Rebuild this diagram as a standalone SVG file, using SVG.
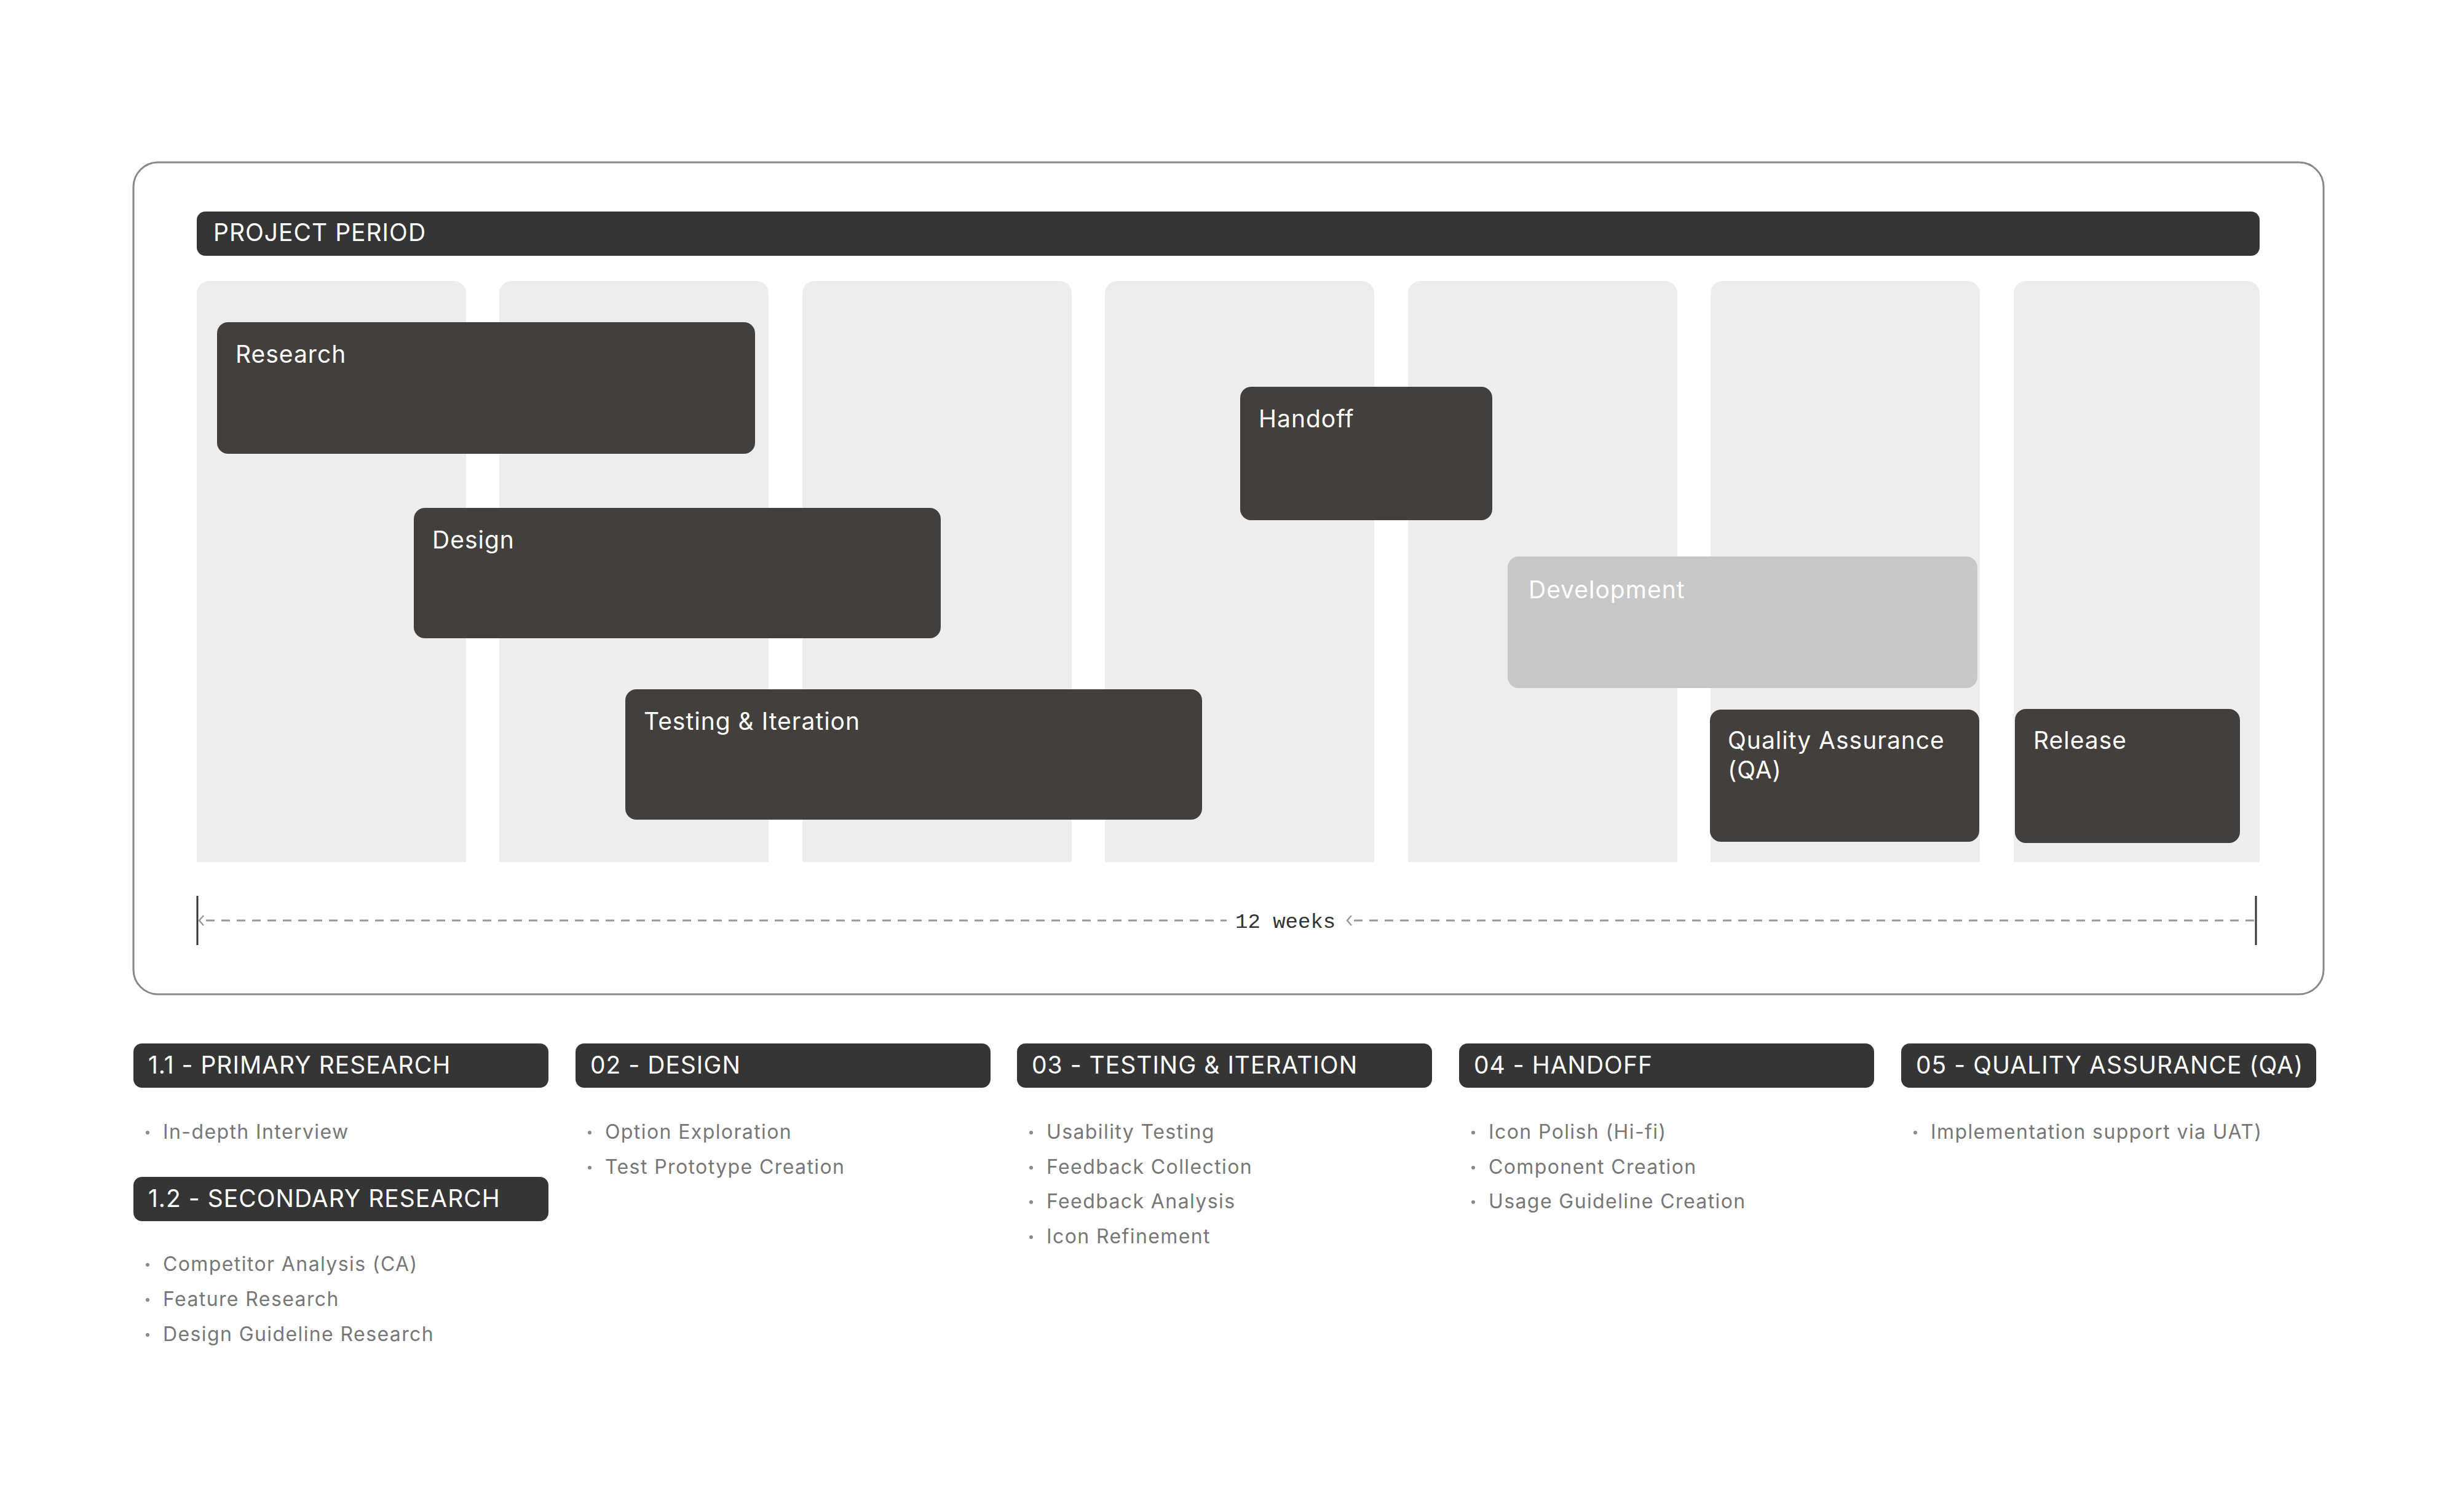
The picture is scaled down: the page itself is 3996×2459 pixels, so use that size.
<svg xmlns="http://www.w3.org/2000/svg" width="3996" height="2459" viewBox="0 0 3996 2459">
<style>
.lbl{font-family:Inter,"Open Sans","Liberation Sans",sans-serif;font-size:39px;letter-spacing:1px;fill:#ffffff}
.bar{fill:#433f3c}
.col{fill:#ededed}
.hdr{fill:#353535}
.item{font-family:Inter,"Open Sans","Liberation Sans",sans-serif;font-size:32px;letter-spacing:1.4px;fill:#777777}
.dot{fill:#8a8a8a}
.dash{stroke:#999999;stroke-width:3;stroke-dasharray:14 11;fill:none}
.tick{stroke:#333333;stroke-width:3}
.chev{stroke:#999999;stroke-width:2.5;fill:none}
</style>
<rect width="3996" height="2459" fill="#ffffff"/>
<g id="frame">
<rect x="217" y="264" width="3562" height="1353" rx="40" fill="#ffffff" stroke="#888888" stroke-width="3"/>
</g>
<g id="project-period">
<rect class="hdr" x="320" y="344" width="3355" height="72" rx="14"/>
<text class="lbl" x="347" y="392">PROJECT PERIOD</text>
</g>
<g id="columns">
<path class="col" d="M320 1402V477a20 20 0 0 1 20-20H738a20 20 0 0 1 20 20V1402Z"/>
<path class="col" d="M812 1402V477a20 20 0 0 1 20-20H1230a20 20 0 0 1 20 20V1402Z"/>
<path class="col" d="M1305 1402V477a20 20 0 0 1 20-20H1723a20 20 0 0 1 20 20V1402Z"/>
<path class="col" d="M1797 1402V477a20 20 0 0 1 20-20H2215a20 20 0 0 1 20 20V1402Z"/>
<path class="col" d="M2290 1402V477a20 20 0 0 1 20-20H2708a20 20 0 0 1 20 20V1402Z"/>
<path class="col" d="M2782 1402V477a20 20 0 0 1 20-20H3200a20 20 0 0 1 20 20V1402Z"/>
<path class="col" d="M3275 1402V477a20 20 0 0 1 20-20H3655a20 20 0 0 1 20 20V1402Z"/>
</g>
<g id="research">
<rect class="bar" x="353" y="524" width="875" height="214" rx="18"/>
<text class="lbl" x="383" y="590">Research</text>
</g>
<g id="design">
<rect class="bar" x="673" y="826" width="857" height="212" rx="18"/>
<text class="lbl" x="703" y="892">Design</text>
</g>
<g id="testing-iteration">
<rect class="bar" x="1017" y="1121" width="938" height="212" rx="18"/>
<text class="lbl" x="1047" y="1187">Testing &amp; Iteration</text>
</g>
<g id="handoff">
<rect class="bar" x="2017" y="629" width="410" height="217" rx="18"/>
<text class="lbl" x="2047" y="695">Handoff</text>
</g>
<g id="development">
<rect x="2452" y="905" width="764" height="214" rx="18" fill="#c8c8c8"/>
<text class="lbl" x="2486" y="973">Development</text>
</g>
<g id="quality-assurance">
<rect class="bar" x="2781" y="1154" width="438" height="215" rx="18"/>
<text class="lbl" x="2810" y="1218">Quality Assurance</text>
<text class="lbl" x="2810" y="1266">(QA)</text>
</g>
<g id="release">
<rect class="bar" x="3277" y="1153" width="366" height="218" rx="18"/>
<text class="lbl" x="3307" y="1218">Release</text>
</g>
<g id="connectors">
<line class="tick" x1="321" y1="1457" x2="321" y2="1537"/>
<line class="tick" x1="3669" y1="1457" x2="3669" y2="1537"/>
<line class="dash" x1="335" y1="1497" x2="1995" y2="1497"/>
<line class="dash" x1="2202" y1="1497" x2="3668" y2="1497"/>
<polyline class="chev" points="331,1489 324,1497 331,1505"/>
<polyline class="chev" points="2198,1489 2191,1497 2198,1505"/>
<text x="2009" y="1509" font-family="'Liberation Mono','DejaVu Sans Mono',monospace" font-size="34" fill="#333333">12 weeks</text>
</g>
<g id="sec-primary-research">
<rect class="hdr" x="217" y="1697" width="675" height="72" rx="14"/>
<text class="lbl" x="241" y="1746">1.1 - PRIMARY RESEARCH</text>
<circle class="dot" cx="240" cy="1842" r="3"/>
<text class="item" x="265" y="1852">In-depth Interview</text>
</g>
<g id="sec-secondary-research">
<rect class="hdr" x="217" y="1914" width="675" height="72" rx="14"/>
<text class="lbl" x="241" y="1963">1.2 - SECONDARY RESEARCH</text>
<circle class="dot" cx="240" cy="2057" r="3"/>
<text class="item" x="265" y="2067">Competitor Analysis (CA)</text>
<circle class="dot" cx="240" cy="2114" r="3"/>
<text class="item" x="265" y="2124">Feature Research</text>
<circle class="dot" cx="240" cy="2171" r="3"/>
<text class="item" x="265" y="2181">Design Guideline Research</text>
</g>
<g id="sec-design">
<rect class="hdr" x="936" y="1697" width="675" height="72" rx="14"/>
<text class="lbl" x="960" y="1746">02 - DESIGN</text>
<circle class="dot" cx="959" cy="1842" r="3"/>
<text class="item" x="984" y="1852">Option Exploration</text>
<circle class="dot" cx="959" cy="1899" r="3"/>
<text class="item" x="984" y="1909">Test Prototype Creation</text>
</g>
<g id="sec-testing">
<rect class="hdr" x="1654" y="1697" width="675" height="72" rx="14"/>
<text class="lbl" x="1678" y="1746">03 - TESTING &amp; ITERATION</text>
<circle class="dot" cx="1677" cy="1842" r="3"/>
<text class="item" x="1702" y="1852">Usability Testing</text>
<circle class="dot" cx="1677" cy="1899" r="3"/>
<text class="item" x="1702" y="1909">Feedback Collection</text>
<circle class="dot" cx="1677" cy="1955" r="3"/>
<text class="item" x="1702" y="1965">Feedback Analysis</text>
<circle class="dot" cx="1677" cy="2012" r="3"/>
<text class="item" x="1702" y="2022">Icon Refinement</text>
</g>
<g id="sec-handoff">
<rect class="hdr" x="2373" y="1697" width="675" height="72" rx="14"/>
<text class="lbl" x="2397" y="1746">04 - HANDOFF</text>
<circle class="dot" cx="2396" cy="1842" r="3"/>
<text class="item" x="2421" y="1852">Icon Polish (Hi-fi)</text>
<circle class="dot" cx="2396" cy="1899" r="3"/>
<text class="item" x="2421" y="1909">Component Creation</text>
<circle class="dot" cx="2396" cy="1955" r="3"/>
<text class="item" x="2421" y="1965">Usage Guideline Creation</text>
</g>
<g id="sec-qa">
<rect class="hdr" x="3092" y="1697" width="675" height="72" rx="14"/>
<text class="lbl" x="3116" y="1746">05 - QUALITY ASSURANCE (QA)</text>
<circle class="dot" cx="3115" cy="1842" r="3"/>
<text class="item" x="3140" y="1852">Implementation support via UAT)</text>
</g>
</svg>
